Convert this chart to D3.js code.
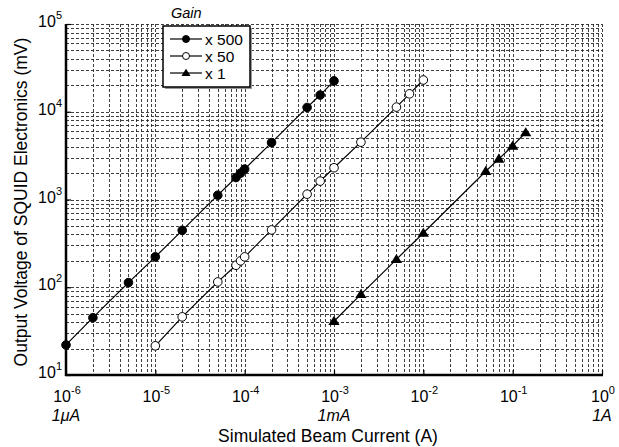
<!DOCTYPE html>
<html>
<head>
<meta charset="utf-8">
<script src="https://cdn.jsdelivr.net/npm/d3@7"></script>
<style>
  body { margin: 0; background: #fff; }
  svg { display: block; font-family: "Liberation Sans", Arial, Helvetica, sans-serif; }
</style>
</head>
<body>
<svg id="chart"></svg>
<script>
const width = 619;
const height = 447;

// 數據：電流 (A) 與輸出電壓 (mV)
const currentX500 = [1e-6, 2e-6, 5e-6, 1e-5, 2e-5, 5e-5, 8e-5, 9e-5, 1e-4, 2e-4, 5e-4, 7e-4, 1e-3];
const voltageX500 = [22, 45, 113, 222, 445, 1120, 1780, 2000, 2220, 4450, 11200, 15500, 22500];

const currentX50 = [1e-5, 2e-5, 5e-5, 8e-5, 9e-5, 1e-4, 2e-4, 5e-4, 7e-4, 1e-3, 2e-3, 5e-3, 7e-3, 1e-2];
const voltageX50 = [21.5, 46, 115, 178, 200, 222, 450, 1150, 1620, 2300, 4500, 11300, 16000, 23000];

const currentX1 = [1e-3, 2e-3, 5e-3, 1e-2, 5e-2, 7e-2, 1e-1, 1.4e-1];
const voltageX1 = [41, 83, 208, 415, 2100, 2900, 4080, 5800];

const seriesNames = ["x 500", "x 50", "x 1"];
const seriesMarkers = ["filled", "open", "triangle"];

const xMajor = [1e-6, 1e-5, 1e-4, 1e-3, 1e-2, 1e-1, 1];
const xExponents = ["-6", "-5", "-4", "-3", "-2", "-1", "0"];
const xUnitLabels = ["1\u03BCA", "", "", "1mA", "", "", "1A"];
const yMajor = [10, 100, 1000, 10000, 100000];
const yExponents = ["1", "2", "3", "4", "5"];

const margin = { left: 66, right: 17, top: 24, bottom: 72 };
const plotW = width - margin.left - margin.right;
const plotH = height - margin.top - margin.bottom;

const svg = d3.select("#chart").attr("width", width).attr("height", height);

const x = d3.scaleLog().domain([1e-6, 1]).range([margin.left, margin.left + plotW]);
const y = d3.scaleLog().domain([10, 1e5]).range([margin.top + plotH, margin.top]);

// 網格線（主刻度 + 次刻度）
function minorTicks(lo, hi) {
    const out = [];
    for (let e = Math.round(Math.log10(lo)); e < Math.round(Math.log10(hi)); e++) {
        for (let m = 1; m <= 9; m++) out.push(m * Math.pow(10, e));
    }
    out.push(hi);
    return out;
}

const grid = svg.append("g").attr("class", "grid")
    .attr("stroke", "#2a2a2a")
    .attr("stroke-width", 0.9)
    .attr("stroke-dasharray", "3,2");

grid.selectAll("line.gx")
    .data(minorTicks(1e-6, 1))
    .enter().append("line")
    .attr("class", "gx")
    .attr("x1", d => Math.round(x(d)) + 0.5)
    .attr("x2", d => Math.round(x(d)) + 0.5)
    .attr("y1", y(1e5))
    .attr("y2", y(10));

grid.selectAll("line.gy")
    .data(minorTicks(10, 1e5))
    .enter().append("line")
    .attr("class", "gy")
    .attr("y1", d => Math.round(y(d)) + 0.5)
    .attr("y2", d => Math.round(y(d)) + 0.5)
    .attr("x1", x(1e-6))
    .attr("x2", x(1));

// 軸線
const axisX = svg.append("g")
    .attr("transform", `translate(0,${y(10)})`)
    .call(d3.axisBottom(x).tickValues(xMajor).tickSize(-5).tickFormat(""));
axisX.select(".domain").attr("stroke-width", 2.5).attr("d", `M${x(1e-6) - 1},0H${x(1) + 1}`);
axisX.selectAll(".tick line").attr("stroke-width", 1.2);

const axisY = svg.append("g")
    .attr("transform", `translate(${x(1e-6)},0)`)
    .call(d3.axisLeft(y).tickValues(yMajor).tickSize(-5).tickFormat(""));
axisY.select(".domain").attr("stroke-width", 2.5).attr("d", `M0,${y(1e5)}V${y(10) + 1}`);
axisY.selectAll(".tick line").attr("stroke-width", 1.2);

// X 刻度標籤
const xLab = svg.append("g").selectAll("text.xl")
    .data(xMajor)
    .enter().append("text")
    .attr("class", "xl")
    .attr("x", d => x(d) + 1)
    .attr("y", 402)
    .attr("text-anchor", "middle")
    .style("font-size", "16px");
xLab.append("tspan").text("10");
xLab.append("tspan").attr("dy", -8).style("font-size", "11px").text((d, i) => xExponents[i]);

svg.append("g").selectAll("text.xu")
    .data(xMajor)
    .enter().append("text")
    .attr("x", d => x(d))
    .attr("y", 421)
    .attr("text-anchor", "middle")
    .style("font-size", "16px")
    .style("font-style", "italic")
    .text((d, i) => xUnitLabels[i]);

// Y 刻度標籤
const yLab = svg.append("g").selectAll("text.yl")
    .data(yMajor)
    .enter().append("text")
    .attr("x", 62)
    .attr("y", d => y(d) + 3)
    .attr("text-anchor", "end")
    .style("font-size", "16px");
yLab.append("tspan").text("10");
yLab.append("tspan").attr("dy", -8).style("font-size", "11px").text((d, i) => yExponents[i]);

// 軸標題
svg.append("text")
    .attr("x", 328)
    .attr("y", 442)
    .attr("text-anchor", "middle")
    .style("font-size", "17.5px")
    .text("Simulated Beam Current (A)");

svg.append("text")
    .attr("transform", "translate(27,202) rotate(-90)")
    .attr("text-anchor", "middle")
    .style("font-size", "17.5px")
    .text("Output Voltage of SQUID Electronics (mV)");

// 數據系列
const series = [
    { name: seriesNames[0], marker: seriesMarkers[0], pts: currentX500.map((c, i) => [c, voltageX500[i]]) },
    { name: seriesNames[1], marker: seriesMarkers[1], pts: currentX50.map((c, i) => [c, voltageX50[i]]) },
    { name: seriesNames[2], marker: seriesMarkers[2], pts: currentX1.map((c, i) => [c, voltageX1[i]]) }
];

const line = d3.line().x(d => x(d[0])).y(d => y(d[1]));

function drawMarker(g, type, cx, cy, s) {
    if (type === "triangle") {
        const r = s * 1.25;
        g.append("path")
            .attr("d", `M${cx},${cy - r}L${cx + r * 1.05},${cy + r * 0.7}L${cx - r * 1.05},${cy + r * 0.7}Z`)
            .attr("fill", "#000");
    } else {
        g.append("circle")
            .attr("cx", cx).attr("cy", cy).attr("r", s)
            .attr("fill", type === "filled" ? "#000" : "#fff")
            .attr("stroke", "#000")
            .attr("stroke-width", 1);
    }
}

series.forEach(s => {
    svg.append("path")
        .datum(s.pts)
        .attr("d", line)
        .attr("fill", "none")
        .attr("stroke", "#000")
        .attr("stroke-width", 1.2);
    const g = svg.append("g");
    s.pts.forEach(p => drawMarker(g, s.marker, x(p[0]), y(p[1]), 4.3));
});

// 圖例
const lg = svg.append("g").attr("transform", "translate(163,26)");
lg.append("rect").attr("x", 2).attr("y", 2).attr("width", 87).attr("height", 61).attr("fill", "#999");
lg.append("rect").attr("x", 0).attr("y", 0).attr("width", 87).attr("height", 61)
    .attr("fill", "#fff").attr("stroke", "#000").attr("stroke-width", 1.5);
svg.append("text")
    .attr("x", 171).attr("y", 18)
    .style("font-size", "14.5px").style("font-style", "italic")
    .text("Gain");
series.forEach((s, i) => {
    const yy = 13 + i * 17;
    lg.append("line").attr("x1", 7).attr("x2", 39).attr("y1", yy).attr("y2", yy)
        .attr("stroke", "#000").attr("stroke-width", 1.2);
    drawMarker(lg, s.marker, 23, yy, 3.5);
    lg.append("text").attr("x", 42).attr("y", yy + 5.5)
        .style("font-size", "15.5px").text(s.name);
});
</script>
</body>
</html>
